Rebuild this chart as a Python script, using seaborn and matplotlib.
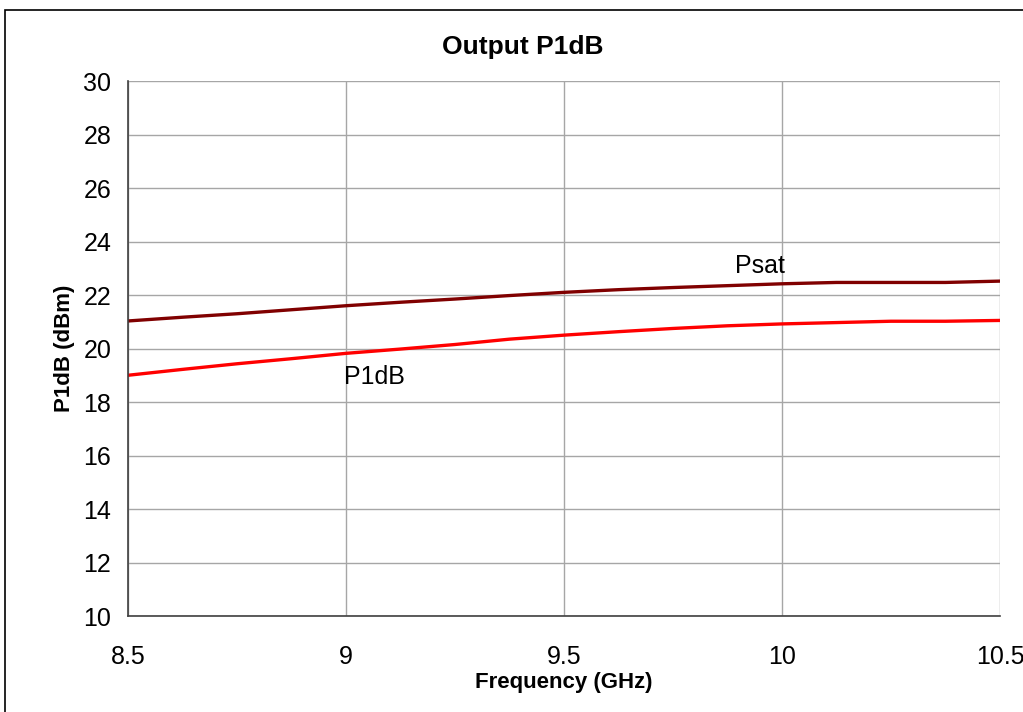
import matplotlib
matplotlib.use('Agg')
import matplotlib.pyplot as plt
import matplotlib.patches as patches
import pandas as pd
import seaborn as sns

# values
freq = [8.5, 8.625, 8.75, 8.875, 9.0, 9.125, 9.25, 9.375, 9.5,
        9.625, 9.75, 9.875, 10.0, 10.125, 10.25, 10.375, 10.5]
psat = [21.03, 21.17, 21.3, 21.45, 21.6, 21.73, 21.85, 21.98, 22.1,
        22.2, 22.28, 22.35, 22.42, 22.47, 22.47, 22.47, 22.52]
p1db = [19.0, 19.22, 19.43, 19.62, 19.82, 19.98, 20.15, 20.35, 20.5,
        20.63, 20.75, 20.85, 20.92, 20.97, 21.02, 21.02, 21.05]
x_ticks = [8.5, 9, 9.5, 10, 10.5]
x_labels = ['8.5', '9', '9.5', '10', '10.5']
y_ticks = list(range(10, 31, 2))

df = pd.DataFrame({'freq': freq, 'Psat': psat, 'P1dB': p1db})

sns.set_style('white')
plt.rcParams['font.family'] = ['Liberation Sans', 'DejaVu Sans']
plt.rcParams['text.color'] = 'black'
plt.rcParams['axes.labelcolor'] = 'black'
plt.rcParams['xtick.color'] = 'black'
plt.rcParams['ytick.color'] = 'black'

fig = plt.figure(figsize=(10.23, 7.12), dpi=100)
ax = fig.add_axes([0.1251, 0.1348, 0.8524, 0.7514])

sns.lineplot(data=df, x='freq', y='Psat', color='#800000', linewidth=2.4, ax=ax)
sns.lineplot(data=df, x='freq', y='P1dB', color='#ff0000', linewidth=2.4, ax=ax)

ax.set_xlim(8.5, 10.5)
ax.set_ylim(10, 30)
ax.set_xticks(x_ticks)
ax.set_xticklabels(x_labels)
ax.set_yticks(y_ticks)
ax.grid(True, color='#a6a6a6', linewidth=1)
ax.set_axisbelow(True)

for side in ['top', 'right']:
    ax.spines[side].set_visible(False)
for side in ['left', 'bottom']:
    ax.spines[side].set_color('#404040')
    ax.spines[side].set_linewidth(1.2)

ax.tick_params(axis='y', direction='out', length=5, width=1, color='#404040',
               labelsize=18, pad=7)
ax.tick_params(axis='x', length=0, labelsize=18, pad=21)

ax.set_xlabel('Frequency (GHz)', fontsize=16, fontweight='bold', labelpad=2)
ax.set_ylabel('P1dB (dBm)', fontsize=16, fontweight='bold', labelpad=6)
fig.text(0.511, 1 - 47 / 712, 'Output P1dB', fontsize=19, fontweight='bold',
         ha='center', va='center')

ax.text(9.95, 22.65, 'Psat', fontsize=18, ha='center', va='bottom')
ax.text(9.065, 18.95, 'P1dB', fontsize=18, ha='center', va='center')

# outer chart frame
fig.patches.append(patches.Rectangle((5 / 1023, -0.1), 1.2, 1 - 10 / 712 + 0.1,
                                     transform=fig.transFigure, fill=False,
                                     edgecolor='black', linewidth=1.2))

fig.savefig('out.png', dpi=100)
